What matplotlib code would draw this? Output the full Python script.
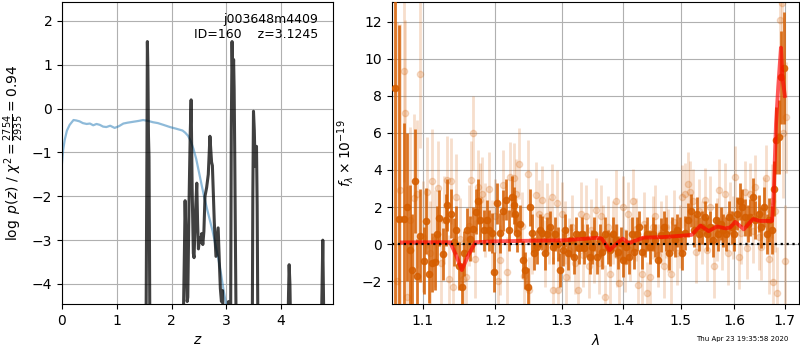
import numpy as np
import matplotlib
matplotlib.use('Agg')
import matplotlib.pyplot as plt
from matplotlib.ticker import NullLocator, FixedLocator, FixedFormatter

# ---- p(z) panel ----
z_pz = [0.0, 1.53, 1.55, 1.558, 1.568, 1.578, 1.588, 1.597, 1.607,
        2.20, 2.235, 2.247, 2.262, 2.285, 2.296, 2.318, 2.34, 2.357, 2.375, 2.397, 2.41,
        2.435, 2.46, 2.475, 2.49, 2.51, 2.53, 2.55, 2.57, 2.59, 2.61, 2.64, 2.67, 2.70,
        2.73, 2.745, 2.78, 2.81, 2.85, 2.875, 2.89, 2.91, 2.93, 2.96,
        3.02, 3.04, 3.06, 3.075, 3.09, 3.104, 3.118, 3.132, 3.142, 3.152, 3.165, 3.185,
        3.47, 3.483, 3.495, 3.51, 3.525, 3.55, 3.562, 3.58,
        4.11, 4.135, 4.146, 4.16, 4.185,
        4.72, 4.745, 4.76, 4.79, 4.95]
logp = [-6.0, -6.0, -1.0, 1.53, 0.9, -0.6, -1.1, -3.2, -6.0,
        -6.0, -3.2, -2.1, -2.9, -4.4, -4.3, -2.2, -0.6, 0.2, -1.8, -3.3, -3.4,
        -2.4, -1.7, -2.6, -3.2, -2.95, -3.05, -2.85, -3.1, -2.8, -2.0, -1.8, -1.5, -0.63,
        -1.22, -1.3, -2.6, -3.37, -2.72, -3.6, -4.1, -4.4, -4.15, -6.0,
        -6.0, -4.4, -6.0, -6.0, -0.5, 1.53, 0.47, 1.12, 0.45, -0.9, -3.0, -6.0,
        -6.0, -2.0, -0.06, -0.5, -1.32, -0.86, -2.2, -6.0,
        -6.0, -4.2, -3.56, -4.0, -6.0,
        -6.0, -4.2, -3.0, -6.0, -6.0]

z_prior = [0.0, 0.02, 0.05, 0.09, 0.14, 0.21, 0.26, 0.32, 0.38, 0.45, 0.51, 0.57, 0.63,
           0.69, 0.75, 0.81, 0.88, 0.96, 1.04, 1.12, 1.2, 1.3, 1.4, 1.48, 1.57, 1.66,
           1.75, 1.85, 1.97, 2.09, 2.2, 2.25, 2.3, 2.35, 2.4, 2.45, 2.5, 2.55, 2.6,
           2.65, 2.7, 2.75, 2.8, 2.85, 2.9, 2.95, 3.0, 3.05]
logp_prior = [-1.24, -0.95, -0.71, -0.5, -0.37, -0.26, -0.27, -0.29, -0.33, -0.35,
              -0.34, -0.38, -0.35, -0.37, -0.41, -0.42, -0.39, -0.44, -0.4, -0.34,
              -0.32, -0.3, -0.28, -0.26, -0.28, -0.31, -0.33, -0.37, -0.42, -0.46,
              -0.5, -0.55, -0.62, -0.74, -0.92, -1.15, -1.45, -1.75, -2.04, -2.3,
              -2.55, -2.8, -3.1, -3.4, -3.75, -4.15, -4.5, -4.9]

# ---- spectrum panel: grism data (two sets) and model ----
wave_a = [1.0645, 1.0687, 1.075, 1.079, 1.083, 1.086, 1.0895, 1.093, 1.097, 1.1013,
          1.104, 1.108, 1.112, 1.1166, 1.1196, 1.1222, 1.127, 1.131, 1.133, 1.1377,
          1.1417, 1.1454, 1.149, 1.1528, 1.156, 1.160, 1.164, 1.168, 1.1728, 1.175,
          1.179, 1.1835, 1.188, 1.192, 1.1956, 1.199, 1.203, 1.207, 1.212, 1.216,
          1.220, 1.224, 1.227, 1.229, 1.232, 1.237, 1.241, 1.244, 1.248, 1.251,
          1.254, 1.258, 1.262, 1.266, 1.2695, 1.274, 1.2773, 1.2814, 1.286, 1.290,
          1.2943, 1.298, 1.302, 1.306, 1.310, 1.3146, 1.319, 1.323, 1.3273, 1.3316,
          1.3358, 1.340, 1.3444, 1.348, 1.352, 1.356, 1.361, 1.365, 1.369, 1.374,
          1.378, 1.382, 1.387, 1.391, 1.396, 1.400, 1.405, 1.409, 1.414, 1.418,
          1.423, 1.427, 1.432, 1.437, 1.441, 1.446, 1.451, 1.455, 1.460, 1.465,
          1.470, 1.474, 1.479, 1.484, 1.489, 1.494, 1.499, 1.503, 1.508, 1.513,
          1.518, 1.525, 1.529, 1.534, 1.539, 1.544, 1.549, 1.554, 1.559, 1.564,
          1.569, 1.574, 1.579, 1.584, 1.589, 1.595, 1.600, 1.605, 1.610, 1.615,
          1.620, 1.626, 1.631, 1.636, 1.641, 1.647, 1.652, 1.657, 1.663, 1.668,
          1.673, 1.677, 1.682, 1.688, 1.692, 1.6975]
flux_a = [8.45, 1.35, 1.35, 2.0, -0.3, -1.4, 3.4, -1.7, 0.45, -0.9,
          1.25, -1.6, -1.0, -0.95, 0.55, 1.4, -0.55, 1.3, 2.1, 1.65,
          0.1, 0.75, -1.2, -2.3, -0.5, 0.75, 0.3, 0.8, 1.75, 2.3,
          1.3, 0.75, 1.3, 0.75, 0.6, -1.5, 2.2, 0.6, 1.8, 2.4,
          0.75, 2.55, 2.1, 1.65, 0.6, 1.1, -0.85, -1.4, -2.3, 2.0,
          0.6, -0.5, -0.15, 0.75, 0.6, -0.5, 0.55, 0.9, -0.15, 0.55,
          0.0, -1.4, -0.3, 0.75, -0.5, 0.2, -0.7, 0.55, -0.2, 0.55,
          -0.2, 0.2, -0.7, -0.15, 0.55, -0.7, 0.2, -0.45, 0.55, -0.15,
          -0.3, 0.55, 0.2, -0.45, 0.05, -0.85, -0.15, -0.7, 0.55, -0.45,
          0.55, 0.9, -0.45, 0.2, 0.55, -0.15, 0.55, 0.2, -0.85, 0.5,
          0.9, 0.55, -0.5, 0.55, 0.2, 0.75, 0.55, -0.5, 0.6, 1.3,
          1.8, 0.75, 1.65, 0.55, 0.9, 1.45, 0.55, 0.9, 0.2, 1.3,
          0.55, 1.1, 0.75, 0.55, 1.45, 0.9, 0.55, 1.65, 2.3, 2.0,
          1.45, 1.1, 1.45, 2.55, 1.3, 1.65, 0.9, 2.0, 0.55, 1.3,
          0.75, 3.0, 5.6, 5.8, 9.0, 9.5]
err_a = [12.0, 10.5, 5.2, 4.0, 3.5, 3.0, 2.8, 2.0, 2.5, 1.8,
         1.8, 1.6, 1.6, 1.5, 1.5, 1.5, 1.4, 1.4, 1.4, 1.3,
         1.3, 1.3, 1.3, 1.3, 1.2, 1.2, 1.2, 1.2, 1.2, 1.2,
         1.2, 1.1, 1.1, 1.1, 1.1, 1.1, 1.1, 1.1, 1.1, 1.1,
         1.1, 1.1, 1.0, 1.0, 1.0, 1.0, 1.0, 1.0, 1.0, 1.0,
         1.0, 0.9, 0.9, 0.9, 0.9, 0.9, 0.9, 0.9, 0.9, 0.9,
         0.9, 0.9, 0.9, 0.9, 0.9, 0.9, 0.9, 0.9, 0.9, 0.9,
         0.9, 0.9, 0.9, 0.9, 0.9, 0.9, 0.9, 0.9, 0.9, 0.9,
         0.9, 0.9, 0.9, 0.9, 0.9, 0.9, 0.9, 0.9, 0.9, 0.9,
         0.9, 0.9, 0.9, 0.9, 0.9, 0.9, 0.9, 0.9, 0.9, 0.9,
         0.9, 0.9, 0.9, 0.9, 0.9, 0.9, 0.9, 0.9, 0.9, 0.9,
         0.9, 0.9, 0.9, 0.9, 0.9, 0.9, 0.9, 0.9, 0.9, 0.9,
         0.9, 0.9, 0.9, 0.9, 0.9, 0.9, 0.9, 0.9, 1.0, 1.0,
         1.0, 1.0, 1.0, 1.0, 1.0, 1.0, 1.1, 1.1, 1.1, 1.2,
         1.3, 1.5, 1.8, 2.0, 2.5, 3.0]

wave_b = [1.066, 1.071, 1.076, 1.0775, 1.080, 1.084, 1.088, 1.093, 1.097, 1.101,
          1.106, 1.110, 1.112, 1.117, 1.121, 1.125, 1.128, 1.132, 1.136, 1.138,
          1.141, 1.145, 1.150, 1.155, 1.159, 1.163, 1.166, 1.169, 1.172, 1.175,
          1.179, 1.182, 1.186, 1.191, 1.196, 1.200, 1.204, 1.207, 1.212, 1.217,
          1.222, 1.227, 1.231, 1.235, 1.239, 1.243, 1.248, 1.250, 1.255, 1.260,
          1.265, 1.270, 1.274, 1.277, 1.281, 1.285, 1.287, 1.292, 1.295, 1.300,
          1.305, 1.307, 1.312, 1.317, 1.321, 1.325, 1.330, 1.334, 1.338, 1.343,
          1.347, 1.351, 1.355, 1.359, 1.363, 1.366, 1.370, 1.374, 1.378, 1.382,
          1.387, 1.390, 1.393, 1.399, 1.403, 1.408, 1.412, 1.417, 1.421, 1.425,
          1.431, 1.436, 1.440, 1.446, 1.450, 1.455, 1.460, 1.465, 1.470, 1.474,
          1.478, 1.483, 1.488, 1.493, 1.498, 1.503, 1.507, 1.513, 1.517, 1.523,
          1.528, 1.533, 1.539, 1.544, 1.549, 1.554, 1.561, 1.566, 1.571, 1.576,
          1.581, 1.587, 1.592, 1.597, 1.602, 1.608, 1.613, 1.620, 1.625, 1.630,
          1.636, 1.641, 1.647, 1.652, 1.657, 1.662, 1.667, 1.673, 1.676, 1.680,
          1.684, 1.690, 1.694, 1.696, 1.700, 1.703]
flux_b = [-2.0, 2.9, 9.35, 7.1, -2.85, 1.3, 2.5, 2.7, 9.2, 0.4,
          2.8, -0.5, 3.4, 0.3, 3.05, -1.0, 1.3, 3.45, -1.9, 3.4,
          -2.3, 2.55, 0.3, -1.9, -1.75, 1.0, 3.45, 6.0, -0.8, 3.1,
          2.4, 2.7, 1.3, 2.95, 0.4, 1.5, -2.0, -0.85, 3.2, -1.5,
          3.6, 3.55, 2.7, 4.35, 1.0, -1.7, 3.8, -2.5, 0.2, 2.65,
          1.65, 2.4, -0.5, 1.5, 0.7, 2.55, -2.5, 2.2, -2.5, 1.65,
          0.6, -1.75, -0.3, 0.95, -1.0, -2.5, 1.65, -0.6, 1.5, -1.2,
          0.75, -0.4, 1.85, -1.0, 1.5, 0.4, -2.85, 0.9, -1.6, 0.6,
          2.3, -0.6, -2.1, 2.0, -0.9, 1.65, -0.3, 2.35, 0.8, -2.2,
          -1.6, 1.1, -2.65, -1.75, 0.9, 1.5, -0.6, 0.6, -1.2, 0.95,
          0.2, -1.6, 1.2, -0.5, 0.4, 2.55, 2.7, 3.25, 2.8, 2.35,
          -0.4, 1.8, 0.6, 2.4, -0.3, 2.0, -1.2, 0.8, 2.9, 0.3,
          2.7, -0.5, 1.65, 0.9, 3.6, -0.7, 0.6, 2.8, -0.2, 2.7,
          0.7, 3.1, 0.4, -0.15, 1.8, 3.55, -0.8, 2.35, -2.05, 1.8,
          -2.65, 12.1, 13.0, 6.0, -0.9, 6.85]
err_b = [14.0, 9.0, 6.0, 5.0, 6.0, 5.0, 4.5, 4.0, 4.0, 3.0,
         3.0, 2.8, 2.8, 2.6, 2.5, 2.5, 2.4, 2.4, 2.4, 2.3,
         2.3, 2.3, 2.2, 2.2, 2.2, 2.2, 2.1, 2.0, 2.1, 2.0,
         2.0, 2.0, 2.0, 2.0, 2.0, 2.0, 2.0, 1.9, 1.9, 1.9,
         1.9, 1.9, 1.9, 1.9, 1.8, 1.8, 1.8, 1.8, 1.8, 1.8,
         1.8, 1.8, 1.8, 1.8, 1.8, 1.8, 1.8, 1.8, 1.8, 1.7,
         1.7, 1.7, 1.7, 1.7, 1.7, 1.7, 1.7, 1.7, 1.7, 1.7,
         1.7, 1.7, 1.7, 1.7, 1.7, 1.7, 1.7, 1.7, 1.7, 1.7,
         1.7, 1.7, 1.7, 1.7, 1.7, 1.7, 1.7, 1.7, 1.7, 1.7,
         1.7, 1.7, 1.7, 1.7, 1.7, 1.7, 1.7, 1.7, 1.7, 1.7,
         1.7, 1.7, 1.7, 1.7, 1.7, 1.7, 1.7, 1.7, 1.7, 1.7,
         1.7, 1.7, 1.7, 1.7, 1.7, 1.7, 1.7, 1.7, 1.7, 1.7,
         1.7, 1.7, 1.7, 1.7, 1.7, 1.7, 1.7, 1.7, 1.7, 1.7,
         1.7, 1.7, 1.8, 1.8, 1.8, 1.8, 1.9, 2.0, 2.0, 2.2,
         2.5, 3.0, 3.5, 3.5, 3.0, 3.0]

wave_model = [1.073, 1.100, 1.137, 1.145, 1.153, 1.162, 1.172, 1.200, 1.250, 1.303,
              1.356, 1.364, 1.377, 1.388, 1.399, 1.409, 1.4345, 1.470, 1.500, 1.520,
              1.536, 1.551, 1.5667, 1.583, 1.592, 1.6015, 1.618, 1.636, 1.650, 1.674,
              1.677, 1.682, 1.6865, 1.692, 1.695, 1.700]
flux_model = [0.09, 0.1, 0.1, -0.6, -1.4, -0.6, 0.1, 0.15, 0.18, 0.2,
              0.34, 0.3, -0.33, 0.0, 0.3, 0.05, 0.35, 0.38, 0.45, 0.5,
              1.0, 0.7, 0.95, 0.85, 0.9, 1.2, 0.8, 1.35, 1.25, 1.25,
              2.5, 6.5, 8.5, 10.6, 9.0, 8.0]

lam_ticks = [1.1, 1.2, 1.3, 1.4, 1.5, 1.6, 1.7]
grism_color = (0.835, 0.369, 0.0)

fig = plt.figure(figsize=(8, 3.5), dpi=100)
ax1 = fig.add_axes([0.0775, 0.131, 0.339, 0.863])
ax2 = fig.add_axes([0.49, 0.131, 0.509, 0.863])

# left: log p(z)
ax1.plot(z_prior, logp_prior, color='tab:blue', alpha=0.5, lw=1.6)
ax1.plot(z_pz, logp, color='k', alpha=0.75, lw=2.2)
ax1.set_xlim(0, 4.95)
ax1.set_ylim(-4.46, 2.43)
ax1.set_xlabel(r'$z$')
ax1.set_ylabel(r'$\log\ p(z)$ / $\chi^2=\frac{2754}{2935}=0.94$')
ax1.grid(True)
ax1.set_axisbelow(True)
ax1.text(0.945, 0.965, 'j003648m4409\nID=160    z=3.1245', ha='right', va='top',
         transform=ax1.transAxes, fontsize=9)

# right: spectrum
ax2.errorbar(wave_b, flux_b, yerr=err_b, marker='o', linestyle='none', color=grism_color,
             alpha=0.2, ms=4.5, elinewidth=2, capsize=0, zorder=2)
ax2.errorbar(wave_a, flux_a, yerr=err_a, marker='o', linestyle='none', color=grism_color,
             alpha=0.85, ms=4.5, elinewidth=2, capsize=0, zorder=3)
ax2.plot(wave_model, flux_model, color='r', alpha=0.65, lw=2.8, zorder=4)
ax2.axhline(0, color='k', linestyle=':', lw=1.6, zorder=5)
ax2.set_xscale('log')
ax2.set_xlim(1.0602, 1.7295)
ax2.set_ylim(-3.24, 13.06)
ax2.xaxis.set_major_locator(FixedLocator(lam_ticks))
ax2.xaxis.set_major_formatter(FixedFormatter([f'{t:.1f}' for t in lam_ticks]))
ax2.xaxis.set_minor_locator(NullLocator())
ax2.set_xlabel(r'$\lambda$')
ax2.set_ylabel(r'$f_\lambda\times10^{-19}$')
ax2.grid(True)
ax2.set_axisbelow(True)

fig.text(0.928, 0.031, 'Thu Apr 23 19:35:58 2020', ha='center', va='center', fontsize=5)

fig.savefig('out.png', dpi=100)
